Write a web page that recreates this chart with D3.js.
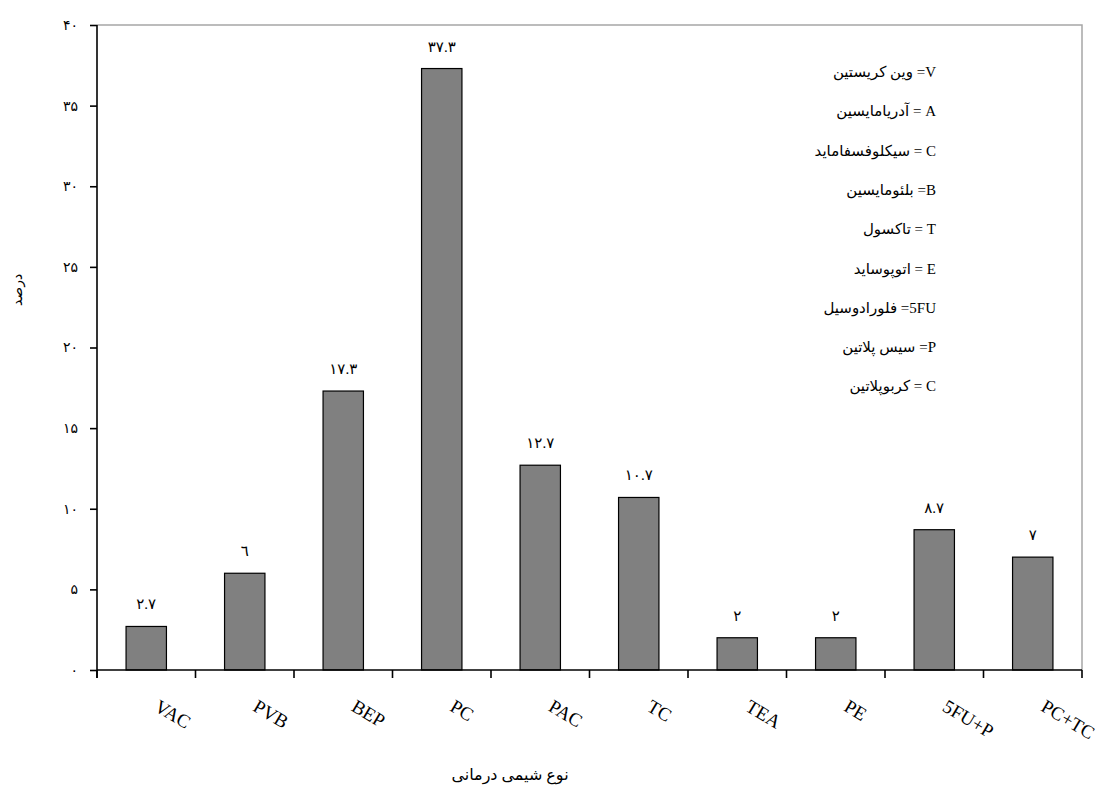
<!DOCTYPE html>
<html>
<head>
<meta charset="utf-8">
<script src="https://cdn.jsdelivr.net/npm/d3@7"></script>
<style>
  body { margin: 0; background: #fff; }
  text { font-family: "Liberation Serif", "DejaVu Sans", serif; fill: #000; }
</style>
</head>
<body>
<div id="chart"></div>
<script>
const categories = ['VAC', 'PVB', 'BEP', 'PC', 'PAC', 'TC', 'TEA', 'PE', '5FU+P', 'PC+TC'];
const percents = [2.7, 6, 17.3, 37.3, 12.7, 10.7, 2, 2, 8.7, 7];
const yTicks = [0, 5, 10, 15, 20, 25, 30, 35, 40];
const legendItems = [
  'V= وین کریستین',
  'A = آدریامایسین',
  'C = سیکلوفسفامايد',
  'B= بلئومایسین',
  'T = تاکسول',
  'E = اتوپوساید',
  '5FU= فلورادوسیل',
  'P= سیس پلاتین',
  'C = کربوپلاتین'
];
const yTitle = 'درصد';
const xTitle = 'نوع شیمی درمانی';

// persian digits for tick and value labels
const faDigits = '۰۱۲۳۴۵۶۷۸۹';
const toFa = v => String(v).replace(/\d/g, d => (d === '6' ? '٦' : faDigits[+d]));

const width = 1106;
const height = 808;
const margin = { top: 25, right: 24, bottom: 138, left: 97 };
const plotW = width - margin.left - margin.right;
const plotH = height - margin.top - margin.bottom;

const svg = d3.select('#chart')
  .append('svg')
  .attr('width', width)
  .attr('height', height);

const g = svg.append('g')
  .attr('transform', `translate(${margin.left}, ${margin.top})`);

const x = d3.scaleBand()
  .domain(categories)
  .range([0, plotW])
  .paddingInner(0.59)
  .paddingOuter(0.295);

const y = d3.scaleLinear()
  .domain([0, 40])
  .range([plotH, 0]);

// gray frame on top and right
g.append('path')
  .attr('d', `M0,0H${plotW}V${plotH}`)
  .attr('fill', 'none')
  .attr('stroke', '#a6a6a6')
  .attr('stroke-width', 1.5);

g.selectAll('.bar')
  .data(percents)
  .join('rect')
  .attr('class', 'bar')
  .attr('x', (d, i) => x(categories[i]))
  .attr('y', d => y(d))
  .attr('width', x.bandwidth())
  .attr('height', d => plotH - y(d))
  .attr('fill', '#808080')
  .attr('stroke', '#000')
  .attr('stroke-width', 1.2);

g.selectAll('.value')
  .data(percents)
  .join('text')
  .attr('class', 'value')
  .attr('text-anchor', 'middle')
  .attr('font-size', 15)
  .attr('x', (d, i) => x(categories[i]) + x.bandwidth() / 2)
  .attr('y', d => y(d) - 17)
  .text(d => toFa(d));

// y axis
const yAxis = g.append('g')
  .call(d3.axisLeft(y).tickValues(yTicks).tickSize(7).tickPadding(12).tickFormat(toFa));
yAxis.select('.domain').attr('d', `M0,0V${plotH + 8}`).attr('stroke-width', 1.6);
yAxis.selectAll('.tick line').attr('stroke-width', 1.6);
yAxis.selectAll('.tick text')
  .attr('font-size', 14)
  .attr('font-family', '"Liberation Serif", "DejaVu Sans", serif');

// x axis, ticks between the bars
const xEdges = d3.range(categories.length + 1).map(i => i * x.step());
const xAxis = g.append('g')
  .attr('transform', `translate(0, ${plotH})`);
xAxis.append('line')
  .attr('x1', 0).attr('x2', plotW)
  .attr('stroke', '#000').attr('stroke-width', 1.6);
xAxis.selectAll('.xtick')
  .data(xEdges)
  .join('line')
  .attr('class', 'xtick')
  .attr('x1', d => d).attr('x2', d => d)
  .attr('y1', 0).attr('y2', 8)
  .attr('stroke', '#000').attr('stroke-width', 1.6);

xAxis.selectAll('.xlabel')
  .data(categories)
  .join('text')
  .attr('class', 'xlabel')
  .attr('font-size', 19)
  .attr('transform', d => `translate(${x(d) + x.bandwidth() / 2 + 7}, 40) rotate(31)`)
  .text(d => d);

// axis titles
svg.append('text')
  .attr('text-anchor', 'middle')
  .attr('font-size', 14)
  .attr('transform', 'translate(22, 290) rotate(-90)')
  .text(yTitle);

svg.append('text')
  .attr('text-anchor', 'middle')
  .attr('font-size', 16)
  .attr('x', 510)
  .attr('y', 780)
  .text(xTitle);

// legend, right to left
svg.append('g')
  .selectAll('text')
  .data(legendItems)
  .join('text')
  .attr('direction', 'rtl')
  .attr('text-anchor', 'start')
  .attr('font-size', 15)
  .attr('x', 936)
  .attr('y', (d, i) => 77 + i * 39.3)
  .text(d => d);
</script>
</body>
</html>
